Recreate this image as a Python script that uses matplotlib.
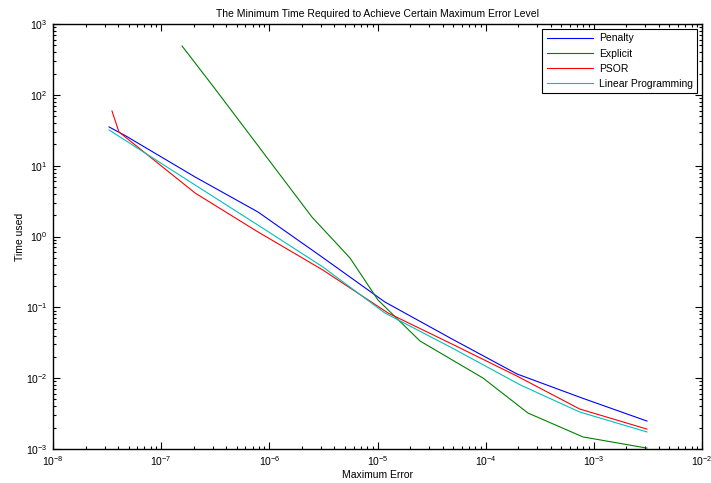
import matplotlib
matplotlib.use("Agg")
import matplotlib.pyplot as plt
from matplotlib.ticker import LogLocator, NullFormatter

# values
penalty_err = [3.30e-8, 4.73e-8, 2.06e-7, 7.85e-7, 3.07e-6, 1.17e-5, 4.89e-5, 1.95e-4, 7.76e-4, 3.10e-3]
penalty_time = [35.2, 26.2, 6.92, 2.22, 0.513, 0.119, 0.0357, 0.01145, 0.00525, 0.00248]

explicit_err = [1.56e-7, 3.01e-7, 2.48e-6, 5.57e-6, 1.01e-5, 2.47e-5, 9.44e-5, 2.46e-4, 7.94e-4, 3.10e-3]
explicit_time = [489, 133, 1.88, 0.497, 0.127, 0.0335, 0.01005, 0.00322, 0.00148, 0.00103]

psor_err = [3.51e-8, 4.07e-8, 2.06e-7, 7.85e-7, 3.13e-6, 1.25e-5, 4.89e-5, 1.95e-4, 7.40e-4, 3.10e-3]
psor_time = [59.1, 29.9, 4.11, 1.16, 0.336, 0.0832, 0.0303, 0.0107, 0.00367, 0.00191]

lp_err = [3.30e-8, 2.06e-7, 7.85e-7, 3.13e-6, 1.17e-5, 4.89e-5, 2.10e-4, 7.40e-4, 3.10e-3]
lp_time = [31.9, 5.33, 1.45, 0.371, 0.0832, 0.0267, 0.0080, 0.00333, 0.00174]

plt.rcParams["font.family"] = ["Liberation Sans", "DejaVu Sans"]
plt.rcParams["font.size"] = 7.5

fig = plt.figure(figsize=(7.11, 4.83), dpi=100)
ax = fig.add_axes([53 / 711, 1 - 449 / 483, 649 / 711, 425 / 483])

lw = 0.8
ax.plot(penalty_err, penalty_time, color=(0, 0, 1), lw=lw, label="Penalty")
ax.plot(explicit_err, explicit_time, color=(0, 0.5, 0), lw=lw, label="Explicit")
ax.plot(psor_err, psor_time, color=(1, 0, 0), lw=lw, label="PSOR")
ax.plot(lp_err, lp_time, color=(0, 0.75, 0.75), lw=lw, label="Linear Programming")

ax.set_xscale("log")
ax.set_yscale("log")
ax.set_xlim(1e-8, 1e-2)
ax.set_ylim(1e-3, 1e3)

# MATLAB-like ticks: inward, on all four sides
ax.xaxis.set_major_locator(LogLocator(base=10, numticks=20))
ax.yaxis.set_major_locator(LogLocator(base=10, numticks=20))
ax.xaxis.set_minor_locator(LogLocator(base=10, subs=range(2, 10), numticks=100))
ax.yaxis.set_minor_locator(LogLocator(base=10, subs=range(2, 10), numticks=100))
ax.xaxis.set_minor_formatter(NullFormatter())
ax.yaxis.set_minor_formatter(NullFormatter())
ax.tick_params(which="both", direction="in", top=True, right=True, width=0.8)
ax.tick_params(which="major", length=5, labelsize=7.5, pad=4)
ax.tick_params(which="minor", length=2.5)
for sp in ax.spines.values():
    sp.set_linewidth(1.0)

ax.set_title("The Minimum Time Required to Achieve Certain Maximum Error Level", fontsize=7.5, pad=5)
ax.set_xlabel("Maximum Error", fontsize=7.5, labelpad=1)
ax.set_ylabel("Time used", fontsize=7.5)
ax.yaxis.set_label_coords(-0.043, 0.5)

leg = ax.legend(loc="upper right", fontsize=7.5, fancybox=False, framealpha=1,
                edgecolor="black", handlelength=4.5, borderpad=0.4,
                labelspacing=0.5, handletextpad=0.5, borderaxespad=0.5)
leg.get_frame().set_linewidth(0.8)

fig.savefig("out.png", dpi=100)
